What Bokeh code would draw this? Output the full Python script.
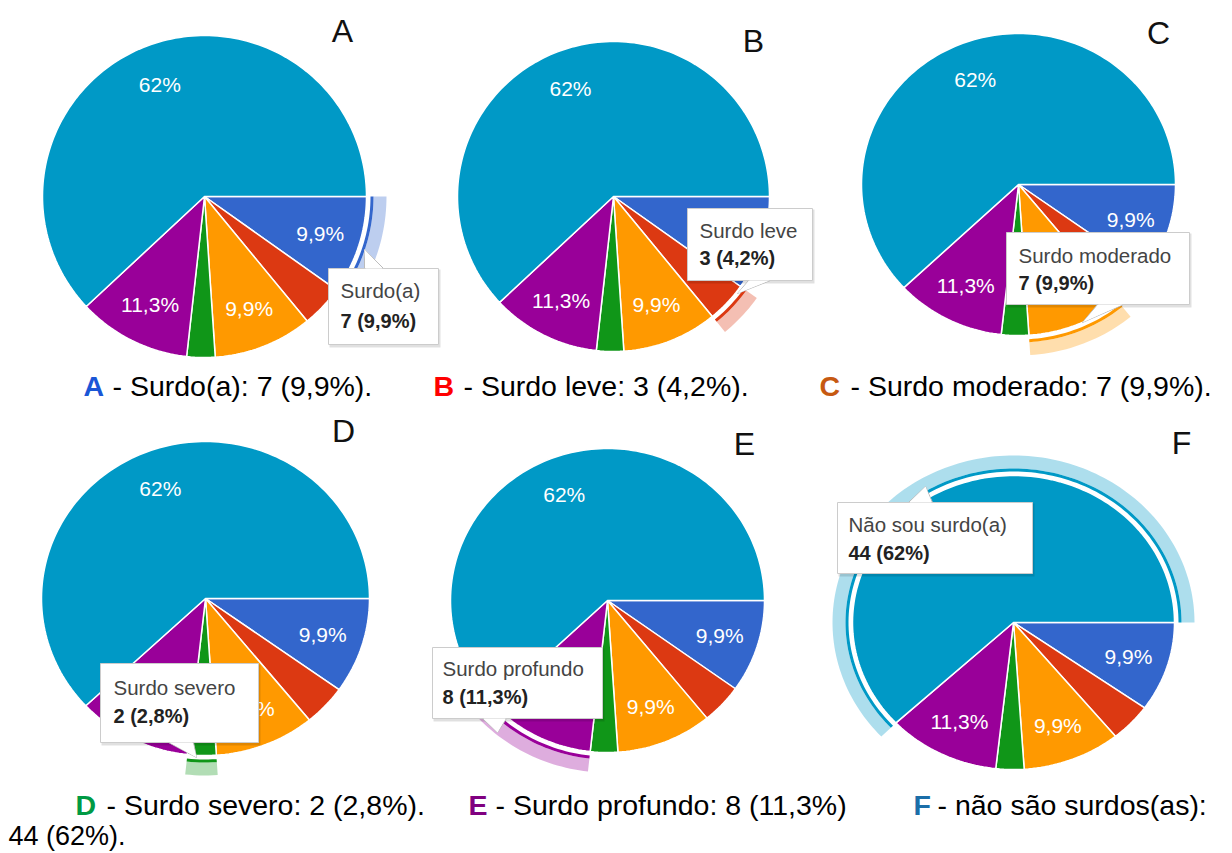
import numpy as np
from bokeh.plotting import figure
from bokeh.models import Range1d
from bokeh.embed import file_html
from bokeh.resources import INLINE
from bokeh.core.properties import value

# ---------------- data ----------------
categories = ["Surdo(a)", "Surdo leve", "Surdo moderado", "Surdo severo",
              "Surdo profundo", "Não sou surdo(a)"]
counts = [7, 3, 7, 2, 8, 44]
pct_text = ["9,9%", "4,2%", "9,9%", "2,8%", "11,3%", "62%"]
slice_colors = ["#3366cc", "#dc3912", "#ff9900", "#109618", "#990099", "#0099c6"]
panel_letters = ["A", "B", "C", "D", "E", "F"]
letter_colors = ["#1a56d6", "#ff0000", "#c65911", "#009a44", "#800080", "#1b6ea8"]
caption_rest = ["- Surdo(a): 7 (9,9%).", "- Surdo leve: 3 (4,2%).",
                "- Surdo moderado: 7 (9,9%).", "- Surdo severo: 2 (2,8%).",
                "- Surdo profundo: 8 (11,3%)", "- não são surdos(as):"]
caption_extra = "44 (62%)."

# ---------------- layout (pixels) ----------------
W, H = 1232, 853
pies = [(204, 196, 162, 161), (613, 196, 156, 155), (1018, 184, 157, 151),
        (205, 598, 164, 157), (607, 600, 157, 152), (1013, 622, 161, 147)]
letter_pos = [(342, 30), (753, 40), (1158, 32), (343, 430), (744, 443), (1181, 442)]
cap_letter_x = [83, 433, 819, 75, 468, 913]
cap_rest_x = [112, 463, 850, 106, 495, 937]
cap_mid_y = [385, 385, 385, 804, 804, 804]
extra_pos = (8, 835)
# tooltip boxes: left, right, top, bottom ; pointer: base1, base2, apex
tip_box = [(328, 438, 268, 344), (687, 812, 208, 280), (1006, 1189, 232, 304),
           (100, 258, 663, 742), (432, 602, 647, 718), (837, 1032, 502, 573)]
tip_ptr = [((364, 268), (383, 268), (364, 249)),
           ((748, 280), (770, 280), (737, 293)),
           ((1097, 304), (1123, 304), (1082, 322)),
           ((168, 742), (193, 742), (196, 757)),
           ((482, 718), (506, 718), (497, 732)),
           ((908, 502), (932, 502), (925, 486))]
tip_text_x = [340, 699, 1018, 113, 442, 848]
tip_text_y = [(290, 320), (230, 257), (255, 282), (687, 715), (668, 696), (524, 552)]

total = float(sum(counts))
fracs = np.array(counts) / total
bounds = np.concatenate([[0.0], np.cumsum(fracs)]) * 2 * np.pi

p = figure(width=W, height=H, x_range=Range1d(0, W), y_range=Range1d(H, 0),
           output_backend="svg", toolbar_location=None, min_border=0)
p.axis.visible = False
p.grid.visible = False
p.outline_line_color = None
p.background_fill_color = "white"
p.border_fill_color = "white"


def arc(cx, cy, rx, ry, a0, a1):
    n = max(4, int(np.degrees(a1 - a0) / 1.5) + 2)
    t = np.linspace(a0, a1, n)
    return cx + rx * np.cos(t), cy + ry * np.sin(t)


def ann(cx, cy, rx, ry, d0, d1, a0, a1):
    ox, oy = arc(cx, cy, rx + d1, ry + d1, a0, a1)
    ix, iy = arc(cx, cy, rx + d0, ry + d0, a0, a1)
    return list(ox) + list(ix[::-1]), list(oy) + list(iy[::-1])


# slices
sx, sy, sc = [], [], []
for (cx, cy, rx, ry) in pies:
    for i in range(len(counts)):
        ax_, ay_ = arc(cx, cy, rx, ry, bounds[i], bounds[i + 1])
        sx.append([cx] + list(ax_) + [cx])
        sy.append([cy] + list(ay_) + [cy])
        sc.append(slice_colors[i])
p.patches(sx, sy, fill_color=sc, line_color="white", line_width=1.5)

# highlight rings (panel k highlights category k)
bx, by, bc, lx, ly, lc = [], [], [], [], [], []
for k, (cx, cy, rx, ry) in enumerate(pies):
    a0, a1 = bounds[k], bounds[k + 1]
    x1, y1 = ann(cx, cy, rx, ry, 7, 20, a0, a1)
    bx.append(x1); by.append(y1); bc.append(slice_colors[k])
    x2, y2 = ann(cx, cy, rx, ry, 4, 7, a0, a1)
    lx.append(x2); ly.append(y2); lc.append(slice_colors[k])
p.patches(bx, by, fill_color=bc, fill_alpha=0.32, line_color=None)
p.patches(lx, ly, fill_color=lc, line_color=None)

# slice percentage labels
tx, ty, tt = [], [], []
for (cx, cy, rx, ry) in pies:
    for i in range(len(counts)):
        if fracs[i] < 0.05:
            continue
        m = 0.5 * (bounds[i] + bounds[i + 1])
        tx.append(cx + 0.75 * rx * np.cos(m))
        ty.append(cy + 0.75 * ry * np.sin(m))
        tt.append(pct_text[i])
p.text(tx, ty, text=tt, text_color="white", text_font=value("Liberation Sans"),
       text_font_size="21px", text_align="center", text_baseline="middle")

# panel letters
p.text([q[0] for q in letter_pos], [q[1] for q in letter_pos], text=panel_letters,
       text_color="#111111", text_font=value("Liberation Sans"), text_font_size="32px",
       text_align="center", text_baseline="middle")

# tooltips
for k in range(6):
    l, r, t, b = tip_box[k]
    p.quad(left=l + 1, right=r + 2, top=t + 1, bottom=b + 3, fill_color="#000000",
           fill_alpha=0.12, line_color=None)
    (b1, b2, ap) = tip_ptr[k]
    p.patch([b1[0], ap[0], b2[0]], [b1[1], ap[1], b2[1]], fill_color="white",
            line_color="#bbbbbb", line_width=1)
    p.quad(left=l, right=r, top=t, bottom=b, fill_color="white",
           line_color="#cccccc", line_width=1)
    p.patch([b1[0] + 1, ap[0], b2[0] - 1], [b1[1], ap[1], b2[1]], fill_color="white",
            line_color=None)
    line2 = f"{counts[k]} ({pct_text[k]})"
    p.text([tip_text_x[k]], [tip_text_y[k][0]], text=[categories[k]],
           text_color="#444444", text_font=value("Liberation Sans"),
           text_font_size="20.5px", text_baseline="middle", text_align="left")
    p.text([tip_text_x[k]], [tip_text_y[k][1]], text=[line2],
           text_color="#222222", text_font=value("Liberation Sans"),
           text_font_size="20px", text_font_style="bold",
           text_baseline="middle", text_align="left")

# captions
p.text(cap_letter_x, cap_mid_y, text=panel_letters, text_color=letter_colors,
       text_font=value("Liberation Sans"), text_font_size="28.5px",
       text_font_style="bold", text_baseline="middle", text_align="left")
p.text(cap_rest_x, cap_mid_y, text=caption_rest, text_color="#000000",
       text_font=value("Liberation Sans"), text_font_size="28.5px",
       text_baseline="middle", text_align="left")
p.text([extra_pos[0]], [extra_pos[1]], text=[caption_extra], text_color="#000000",
       text_font=value("Liberation Sans"), text_font_size="27px",
       text_baseline="middle", text_align="left")

open("out.html", "w").write(file_html(p, INLINE))
